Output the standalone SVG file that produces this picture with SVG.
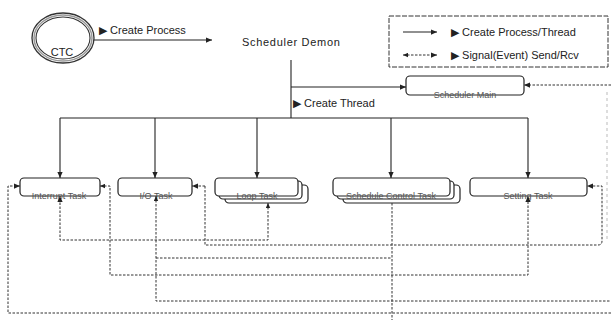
<svg xmlns="http://www.w3.org/2000/svg" width="611" height="320" viewBox="0 0 611 320">
<style>
text{font-family:"Liberation Sans",Arial,sans-serif;fill:#222}
.lbl{font-size:11px}
.tl{font-size:9px;fill:#555;text-anchor:middle}
.box{fill:#fff;stroke:#222;stroke-width:1.2}
.solid{fill:none;stroke:#222;stroke-width:1.1}
.dot{fill:none;stroke:#333;stroke-width:1;stroke-dasharray:2.5 1.5}
</style>
<defs>
<marker id="ah" viewBox="0 0 8 8" refX="8" refY="4" markerWidth="6" markerHeight="6" orient="auto" markerUnits="userSpaceOnUse">
<path d="M0,0.5 L8,4 L0,7.5 z" fill="#222"/>
</marker>
<marker id="ahs" viewBox="0 0 8 8" refX="0" refY="4" markerWidth="5" markerHeight="5" orient="auto" markerUnits="userSpaceOnUse">
<path d="M8,0.5 L0,4 L8,7.5 z" fill="#222"/>
</marker>
</defs>

<g id="ctc">
<ellipse cx="63" cy="38" rx="31" ry="25" fill="#fff" stroke="#333" stroke-width="1.3"/>
<ellipse cx="63" cy="38" rx="29" ry="23" fill="none" stroke="#999" stroke-width="1.5"/>
<ellipse cx="63" cy="38" rx="27" ry="21" fill="none" stroke="#333" stroke-width="1.1"/>
<text x="62" y="56" font-size="11" text-anchor="middle">CTC</text>
</g>

<g id="scheduler-demon">
<text x="242" y="46" font-size="11" letter-spacing="0.7" fill="#444">Scheduler Demon</text>
</g>

<g id="legend">
<rect x="389" y="16" width="219" height="51" fill="#fff" stroke="#333" stroke-width="1" stroke-dasharray="5 1.5"/>
<line x1="403" y1="32" x2="437" y2="32" class="solid" marker-end="url(#ah)"/>
<text x="451" y="36" class="lbl">▶ Create Process/Thread</text>
<line x1="403" y1="55" x2="437" y2="55" class="dot" marker-start="url(#ahs)" marker-end="url(#ah)"/>
<text x="451" y="59" class="lbl">▶ Signal(Event) Send/Rcv</text>
</g>

<g id="scheduler-main">
<rect x="406" y="76" width="118" height="19" rx="4" class="box"/>
<text x="465" y="97.5" class="tl">Scheduler Main</text>
</g>

<g id="interrupt-task">
<rect x="20" y="178" width="80" height="18" rx="4" class="box"/>
<text x="59" y="198.5" class="tl">Interrupt Task</text>
</g>

<g id="io-task">
<rect x="118" y="178" width="74" height="18" rx="4" class="box"/>
<text x="156" y="198.5" class="tl">I/O Task</text>
</g>

<g id="loop-task">
<rect x="225" y="185" width="83" height="18" rx="4" class="box"/>
<rect x="219" y="181" width="83" height="18" rx="4" class="box"/>
<rect x="215" y="178" width="83" height="18" rx="4" class="box"/>
<text x="257" y="198.5" class="tl">Loop Task</text>
</g>

<g id="schedule-control-task">
<rect x="343" y="185" width="117" height="18" rx="4" class="box"/>
<rect x="337" y="181" width="117" height="18" rx="4" class="box"/>
<rect x="333" y="178" width="117" height="18" rx="4" class="box"/>
<text x="391" y="198.5" class="tl">Schedule Control Task</text>
</g>

<g id="setting-task">
<rect x="470" y="178" width="117" height="18" rx="4" class="box"/>
<text x="528" y="198.5" class="tl">Setting Task</text>
</g>

<g id="connectors">
<line x1="94" y1="40" x2="212" y2="40" class="solid" marker-end="url(#ah)"/>
<text x="99" y="34" class="lbl">▶ Create Process</text>
<polyline points="291,60 291,118" class="solid"/>
<line x1="291" y1="87" x2="406" y2="87" class="solid" marker-end="url(#ah)"/>
<text x="293" y="107" class="lbl">▶ Create Thread</text>
<line x1="60" y1="118" x2="528" y2="118" class="solid"/>
<line x1="60" y1="118" x2="60" y2="178" class="solid" marker-end="url(#ah)"/>
<line x1="155" y1="118" x2="155" y2="178" class="solid" marker-end="url(#ah)"/>
<line x1="257" y1="118" x2="257" y2="178" class="solid" marker-end="url(#ah)"/>
<line x1="391" y1="118" x2="391" y2="178" class="solid" marker-end="url(#ah)"/>
<line x1="528" y1="118" x2="528" y2="178" class="solid" marker-end="url(#ah)"/>

<line x1="611" y1="85" x2="524" y2="85" class="dot" marker-end="url(#ah)"/>
<line x1="607" y1="92" x2="607" y2="240" stroke="#bbb" stroke-width="1" stroke-dasharray="3 3"/>
<polyline points="268,203 268,240 60,240 60,196" class="dot" marker-start="url(#ahs)" marker-end="url(#ah)"/>
<path d="M205,186 V245 H598 Q602,245 602,241 V186 H587" class="dot" marker-end="url(#ah)"/>
<line x1="205" y1="186" x2="192" y2="186" class="dot" marker-end="url(#ah)"/>
<polyline points="100,186 110,186 110,275 528,275 528,196" class="dot" marker-start="url(#ahs)" marker-end="url(#ah)"/>
<polyline points="156,196 156,301 611,301" class="dot" marker-start="url(#ahs)"/>
<polyline points="156,258 392,258" class="dot"/>
<polyline points="611,313 8,313 8,186 20,186" class="dot" marker-end="url(#ah)"/>
<line x1="392" y1="203" x2="392" y2="320" class="dot"/>
</g>
</svg>
